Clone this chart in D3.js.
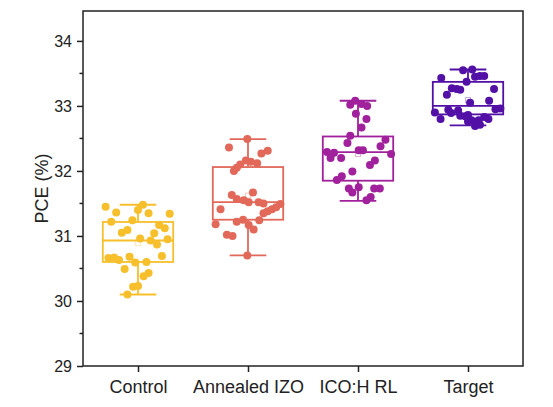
<!DOCTYPE html>
<html>
<head>
<meta charset="utf-8">
<script src="https://cdn.jsdelivr.net/npm/d3@7"></script>
<style>
  html, body { margin: 0; padding: 0; background: #fff; }
  svg { display: block; font-family: Arial, "Liberation Sans", sans-serif; }
</style>
</head>
<body>
<svg id="chart" width="553" height="407"></svg>
<script>
// categories + colours
const groups = ['Control', 'Annealed IZO', 'ICO:H RL', 'Target'];
const colors = ['#F6BF2B', '#E2695A', '#A1219C', '#5210A6'];

// PCE of each device (%), jitter = horizontal offset as fraction of box width
const controlPCE = [31.45, 31.36, 31.48, 31.40, 31.35, 31.34, 31.22, 31.24, 31.17, 31.12,
  31.09, 31.05, 31.04, 30.96, 30.95, 30.93, 30.87, 30.66, 30.67, 30.63,
  30.68, 30.59, 30.60, 30.69, 30.49, 30.43, 30.38, 30.22, 30.23, 30.10];
const controlJitter = [-0.46, -0.31, 0.07, 0, 0.15, 0.45, -0.38, -0.08, 0.30, 0.38,
  -0.15, -0.23, 0.23, 0.03, 0.42, 0.18, 0.27, -0.42, -0.34, -0.27,
  -0.12, -0.04, 0.12, 0.34, -0.19, 0.15, 0.08, -0.07, 0, -0.15];

const annealedPCE = [32.49, 32.36, 32.31, 32.27, 32.16, 32.14, 32.12, 32.10, 32.05, 32.00,
  31.63, 31.67, 31.57, 31.55, 31.52, 31.52, 31.50, 31.41, 31.49, 31.44,
  31.41, 31.38, 31.35, 31.18, 31.22, 31.25, 31.17, 31.24, 31.10, 31.02,
  31.00, 30.70];
const annealedJitter = [-0.01, -0.27, 0.28, 0.19, -0.03, 0.04, 0.13, -0.11, -0.16, -0.20,
  -0.23, 0.07, -0.16, -0.06, 0.01, 0.15, 0.22, -0.39, 0.46, 0.40,
  0.34, 0.28, 0.22, -0.46, -0.16, -0.07, 0.01, 0.16, 0.08, -0.30,
  -0.22, -0.01];

const icoPCE = [33.08, 33.02, 33.03, 33.00, 32.88, 32.80, 32.67, 32.54, 32.43, 32.48,
  32.38, 32.32, 32.32, 32.29, 32.28, 32.26, 32.20, 32.20, 32.16, 32.09,
  31.99, 31.92, 31.86, 31.73, 31.75, 31.67, 31.73, 31.73, 31.60, 31.55];
const icoJitter = [-0.04, -0.11, 0.05, 0.13, -0.03, 0.12, 0.05, -0.11, -0.15, 0.39,
  0.32, 0.01, 0.07, -0.44, -0.34, 0.47, -0.39, -0.24, 0.24, 0.17,
  -0.08, -0.23, -0.30, -0.13, 0.01, -0.08, 0.23, 0.31, 0.18, 0.12];

const targetPCE = [33.43, 33.55, 33.56, 33.45, 33.46, 33.46, 33.37, 33.27, 33.26, 33.25,
  33.26, 33.17, 33.05, 33.08, 32.90, 32.80, 32.94, 32.89, 32.93, 32.85,
  32.84, 32.86, 32.78, 32.78, 32.83, 32.80, 32.95, 32.96, 32.69, 32.71,
  32.76];
const targetJitter = [-0.38, -0.07, 0.06, 0.10, 0.17, 0.23, -0.02, -0.23, -0.16, -0.11,
  0.37, -0.30, 0.03, 0.30, -0.47, -0.39, -0.28, -0.24, -0.14, -0.11,
  -0.04, 0, 0.05, 0.15, 0.23, 0.29, 0.39, 0.46, 0.10, 0.17,
  0];

// box statistics
const q1 = [30.60, 31.25, 31.85, 32.87];
const medians = [30.93, 31.52, 32.29, 33.00];
const q3 = [31.215, 32.06, 32.53, 33.37];
const whiskerLow = [30.10, 30.70, 31.54, 32.70];
const whiskerHigh = [31.48, 32.49, 33.08, 33.56];
const means = [30.89, 31.62, 32.26, 33.09];

const yTicks = [29, 30, 31, 32, 33, 34];
const yMinor = [29.5, 30.5, 31.5, 32.5, 33.5];

const pce = [controlPCE, annealedPCE, icoPCE, targetPCE];
const jitter = [controlJitter, annealedJitter, icoJitter, targetJitter];

const svg = d3.select('#chart');
const margin = { left: 83, right: 30, top: 11, bottom: 41 };
const W = 553, H = 407;

const x = d3.scalePoint()
  .domain(groups)
  .range([margin.left, W - margin.right])
  .padding(0.5);
const y = d3.scaleLinear()
  .domain([29, 34.46])
  .range([H - margin.bottom, margin.top]);

const boxW = x.step() * 0.64;
const capW = boxW * 0.52;
const axisColor = '#222';

// boxes
const boxes = svg.append('g').attr('class', 'boxes');
groups.forEach((g, i) => {
  const cx = x(g), c = colors[i];
  const bg = boxes.append('g').attr('stroke', c).attr('stroke-width', 1.8).attr('fill', 'none');
  bg.append('line').attr('x1', cx).attr('x2', cx).attr('y1', y(whiskerHigh[i])).attr('y2', y(q3[i]));
  bg.append('line').attr('x1', cx).attr('x2', cx).attr('y1', y(q1[i])).attr('y2', y(whiskerLow[i]));
  bg.append('line').attr('x1', cx - capW / 2).attr('x2', cx + capW / 2)
    .attr('y1', y(whiskerHigh[i])).attr('y2', y(whiskerHigh[i]));
  bg.append('line').attr('x1', cx - capW / 2).attr('x2', cx + capW / 2)
    .attr('y1', y(whiskerLow[i])).attr('y2', y(whiskerLow[i]));
  bg.append('rect')
    .attr('x', cx - boxW / 2).attr('y', y(q3[i]))
    .attr('width', boxW).attr('height', y(q1[i]) - y(q3[i]));
  bg.append('line').attr('x1', cx - boxW / 2).attr('x2', cx + boxW / 2)
    .attr('y1', y(medians[i])).attr('y2', y(medians[i]));
});

// points
const pts = svg.append('g').attr('class', 'points');
groups.forEach((g, i) => {
  pts.selectAll(null)
    .data(pce[i].map((v, k) => ({ v, j: jitter[i][k] })))
    .join('circle')
    .attr('cx', d => x(g) + d.j * boxW)
    .attr('cy', d => y(d.v))
    .attr('r', 4)
    .attr('fill', colors[i]);
});

// mean markers
svg.append('g').selectAll('rect')
  .data(means)
  .join('rect')
  .attr('x', (d, i) => x(groups[i]) - 2.5)
  .attr('y', d => y(d) - 2.5)
  .attr('width', 5).attr('height', 5)
  .attr('fill', 'none')
  .attr('stroke', (d, i) => colors[i])
  .attr('stroke-opacity', 0.35)
  .attr('stroke-width', 1);

// frame
const x0 = margin.left, x1 = W - margin.right, y0 = margin.top, y1 = H - margin.bottom;
svg.append('rect')
  .attr('x', x0).attr('y', y0).attr('width', x1 - x0).attr('height', y1 - y0)
  .attr('fill', 'none').attr('stroke', axisColor).attr('stroke-width', 1.5);

// y axis
const yAxis = svg.append('g').attr('transform', `translate(${x0},0)`);
yAxis.call(d3.axisLeft(y).tickValues(yTicks).tickSize(6).tickPadding(5).tickFormat(d3.format('d')));
yAxis.selectAll('.tick line').attr('stroke', axisColor).attr('stroke-width', 1.5);
yAxis.selectAll('.tick text').attr('font-size', 16).attr('fill', '#222')
  .attr('font-family', 'Arial, "Liberation Sans", sans-serif');
yAxis.select('.domain').remove();
yAxis.selectAll('.minor').data(yMinor).join('line')
  .attr('x1', -3.5).attr('x2', 0)
  .attr('y1', d => y(d)).attr('y2', d => y(d))
  .attr('stroke', axisColor).attr('stroke-width', 1.5);

// x axis
const xAxis = svg.append('g').attr('transform', `translate(0,${y1})`);
xAxis.call(d3.axisBottom(x).tickSize(6).tickPadding(8));
xAxis.selectAll('.tick line').attr('stroke', axisColor).attr('stroke-width', 1.5);
xAxis.selectAll('.tick text').attr('font-size', 18).attr('fill', '#222')
  .attr('font-family', 'Arial, "Liberation Sans", sans-serif');
xAxis.select('.domain').remove();

// y title
svg.append('text')
  .attr('transform', `translate(48,${(y0 + y1) / 2}) rotate(-90)`)
  .attr('text-anchor', 'middle')
  .attr('font-size', 18)
  .attr('fill', '#222')
  .text('PCE (%)');
</script>
</body>
</html>
